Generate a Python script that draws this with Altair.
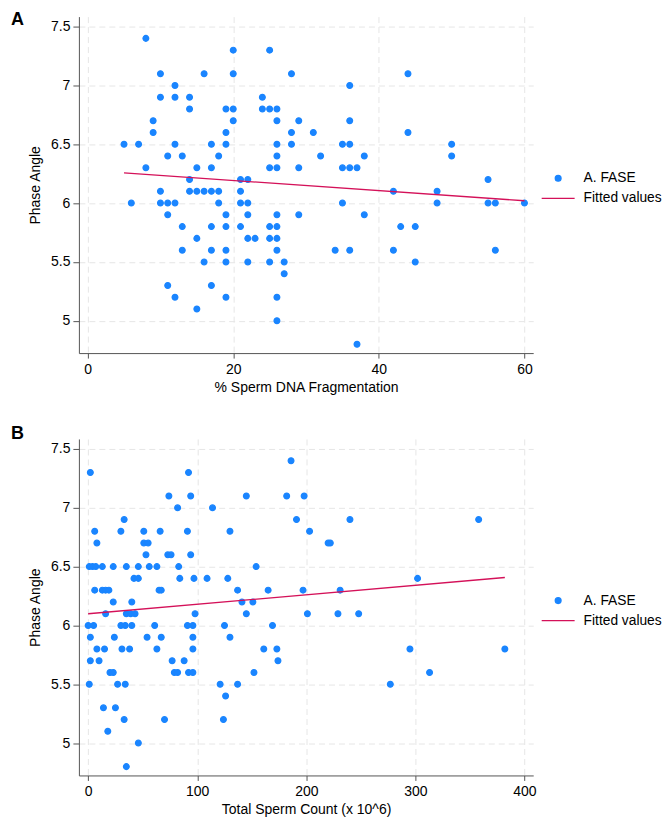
import altair as alt
import pandas as pd

PANELS = ["A", "B"]
SERIES = ["A. FASE", "Fitted values"]
X_TITLES = ["% Sperm DNA Fragmentation", "Total Sperm Count (x 10^6)"]
Y_TITLE = "Phase Angle"
A_X_TICKS = [0, 20, 40, 60]
B_X_TICKS = [0, 100, 200, 300, 400]
Y_TICKS = [5, 5.5, 6, 6.5, 7, 7.5]

# Panel A: % sperm DNA fragmentation vs phase angle
frag = [5, 7, 6, 8, 8, 9, 9, 10, 10, 10, 10, 11, 11, 11, 11, 12, 12, 12, 12, 12,
        13, 13, 13, 14, 14, 14, 14, 15, 15, 15, 15, 16, 16, 16, 17, 17, 17, 17, 17, 17,
        18, 18, 18, 19, 19, 19, 19, 19, 19, 19, 19, 20, 20, 20, 20, 21, 21, 21, 21,
        22, 22, 22, 22, 22, 23, 24, 24, 25, 25, 25, 25, 25, 25,
        26, 26, 26, 26, 26, 26, 26, 26, 26, 26, 26, 27, 27, 28, 28, 28, 29, 29, 29,
        31, 32, 34, 35, 35, 35, 36, 36, 36, 36, 36, 37, 37, 38, 38,
        42, 42, 43, 44, 44, 45, 45, 48, 48, 50, 50, 55, 55, 56, 56, 60]
pa_frag = [6.5, 6.5, 6.0, 7.4, 6.3, 6.7, 6.6, 7.1, 6.9, 6.1, 6.0, 6.4, 6.0, 5.9, 5.3, 7.0, 6.9, 6.5, 6.0, 5.2,
           6.4, 5.8, 5.6, 6.9, 6.8, 6.2, 6.1, 6.3, 6.1, 5.7, 5.1, 7.1, 6.1, 5.5, 6.5, 6.3, 6.1, 5.8, 5.6, 5.3,
           6.4, 6.1, 6.0, 6.8, 6.6, 6.5, 5.9, 5.8, 5.6, 5.5, 5.2, 7.3, 7.1, 6.8, 6.7, 6.2, 6.1, 6.0, 5.8,
           6.2, 6.0, 5.9, 5.7, 5.5, 5.7, 6.9, 6.8, 7.3, 6.8, 6.3, 5.8, 5.7, 5.5,
           6.8, 6.7, 6.5, 6.4, 6.3, 5.9, 5.8, 5.7, 5.6, 5.2, 5.0, 5.5, 5.4, 7.1, 6.6, 6.5, 6.7, 6.3, 5.9,
           6.6, 6.4, 5.6, 6.5, 6.3, 6.0, 7.0, 6.7, 6.5, 6.3, 5.6, 6.3, 4.8, 6.4, 5.9,
           6.1, 5.6, 5.8, 7.1, 6.6, 5.8, 5.5, 6.1, 6.0, 6.5, 6.4, 6.2, 6.0, 6.0, 5.6, 6.0]

# Panel B: total sperm count (x 10^6) vs phase angle
count = [2, 92, 186, 74, 94, 145, 182, 198, 82, 114, 33, 191, 240, 358,
         6, 30, 51, 66, 91, 130, 203, 8, 51, 55, 220, 222, 53, 73, 76, 94,
         1, 4, 7, 13, 23, 35, 46, 56, 63, 83, 154,
         42, 46, 84, 97, 109, 128, 302,
         6, 13, 16, 19, 65, 67, 137, 165, 197, 231,
         23, 40, 141, 151,
         16, 35, 39, 43, 98, 145, 201, 229, 248,
         0, 5, 30, 34, 40, 61, 91, 96, 125, 169,
         2, 24, 54, 67, 96, 130,
         8, 15, 31, 38, 63, 96, 161, 173, 295, 382,
         2, 10, 77, 88, 174,
         20, 23, 79, 82, 92, 96, 152, 313,
         1, 27, 34, 121, 137, 277,
         126, 14, 25, 33, 70, 124, 18, 46, 35]
pa_count = [7.3, 7.3, 7.4, 7.1, 7.1, 7.1, 7.1, 7.1, 7.0, 7.0, 6.9, 6.9, 6.9, 6.9,
            6.8, 6.8, 6.8, 6.8, 6.8, 6.8, 6.8, 6.7, 6.7, 6.7, 6.7, 6.7, 6.6, 6.6, 6.6, 6.6,
            6.5, 6.5, 6.5, 6.5, 6.5, 6.5, 6.5, 6.5, 6.5, 6.5, 6.5,
            6.4, 6.4, 6.4, 6.4, 6.4, 6.4, 6.4,
            6.3, 6.3, 6.3, 6.3, 6.3, 6.3, 6.3, 6.3, 6.3, 6.3,
            6.2, 6.2, 6.2, 6.2,
            6.1, 6.1, 6.1, 6.1, 6.1, 6.1, 6.1, 6.1, 6.1,
            6.0, 6.0, 6.0, 6.0, 6.0, 6.0, 6.0, 6.0, 6.0, 6.0,
            5.9, 5.9, 5.9, 5.9, 5.9, 5.9,
            5.8, 5.8, 5.8, 5.8, 5.8, 5.8, 5.8, 5.8, 5.8, 5.8,
            5.7, 5.7, 5.7, 5.7, 5.7,
            5.6, 5.6, 5.6, 5.6, 5.6, 5.6, 5.6, 5.6,
            5.5, 5.5, 5.5, 5.5, 5.5, 5.5,
            5.4, 5.3, 5.3, 5.2, 5.2, 5.2, 5.1, 5.0, 4.8]

BLUE = "#1a85ff"
RED = "#d41159"
FONT = "Liberation Sans"
W, H = 455, 337
LINE_SYMBOL = "M-1.65,0H1.65"


def panel(xs, ys, letter, xtitle, xticks, xdom, letter_y):
    df = pd.DataFrame({"x": xs, "y": ys, "series": SERIES[0]})
    legend = alt.Legend(title=None, orient="none", legendX=469, legendY=155,
                        padding=0, labelOffset=14.5, rowPadding=2,
                        labelFontSize=13.8, labelFont=FONT, labelColor="black",
                        symbolStrokeWidth=1.3)
    xenc = alt.X("x:Q", title=xtitle,
                 scale=alt.Scale(domain=xdom, nice=False, zero=False),
                 axis=alt.Axis(values=xticks, format="d"))
    yenc = alt.Y("y:Q", title=Y_TITLE,
                 scale=alt.Scale(domain=[4.725, 7.585], nice=False, zero=False),
                 axis=alt.Axis(values=Y_TICKS, format="~g"))
    pts = alt.Chart(df).mark_point(filled=True, opacity=1, strokeWidth=1.2).encode(
        x=xenc, y=yenc,
        color=alt.Color("series:N", scale=alt.Scale(domain=SERIES, range=[BLUE, RED]), legend=legend),
        stroke=alt.Stroke("series:N", scale=alt.Scale(domain=SERIES, range=[BLUE, RED]), legend=legend),
        shape=alt.Shape("series:N", scale=alt.Scale(domain=SERIES, range=["circle", LINE_SYMBOL]), legend=legend),
        size=alt.Size("series:N", scale=alt.Scale(domain=SERIES, range=[34, 400]), legend=legend),
    )
    fit = alt.Chart(df).transform_regression("x", "y").mark_line(
        color=RED, strokeWidth=1.3).encode(x="x:Q", y="y:Q")
    lab = alt.Chart(pd.DataFrame({"t": [letter]})).mark_text(
        font=FONT, fontSize=18, fontWeight="bold", align="left", baseline="top",
        color="black").encode(text="t:N", x=alt.value(-68), y=alt.value(letter_y))
    return alt.layer(pts, fit, lab).properties(width=W, height=H)


pa = panel(frag, pa_frag, PANELS[0], X_TITLES[0], A_X_TICKS, [-1.2, 61.2], -6)
pb = panel(count, pa_count, PANELS[1], X_TITLES[1], B_X_TICKS, [-8.5, 408], -13.6)

chart = alt.vconcat(pa, pb, spacing=31).resolve_scale(
    color="independent", stroke="independent", shape="independent", size="independent"
).resolve_legend(
    color="independent", stroke="independent", shape="independent", size="independent"
).properties(
    padding={"left": 3, "top": 2, "right": 0, "bottom": 0}
).configure_view(stroke=None).configure_axis(
    labelFont=FONT, titleFont=FONT, labelFontSize=14, titleFontSize=14,
    titleFontWeight="normal", labelColor="black", titleColor="black",
    domainColor="#555555", tickColor="#555555", tickSize=5, labelPadding=3,
    gridColor="#e6e6e6", gridDash=[6, 4], gridWidth=1
).configure_axisY(titlePadding=8, tickSize=6).configure_axisX(titlePadding=4, labelPadding=4)

chart.save("out.html", embed_options={"renderer": "svg", "actions": False})
